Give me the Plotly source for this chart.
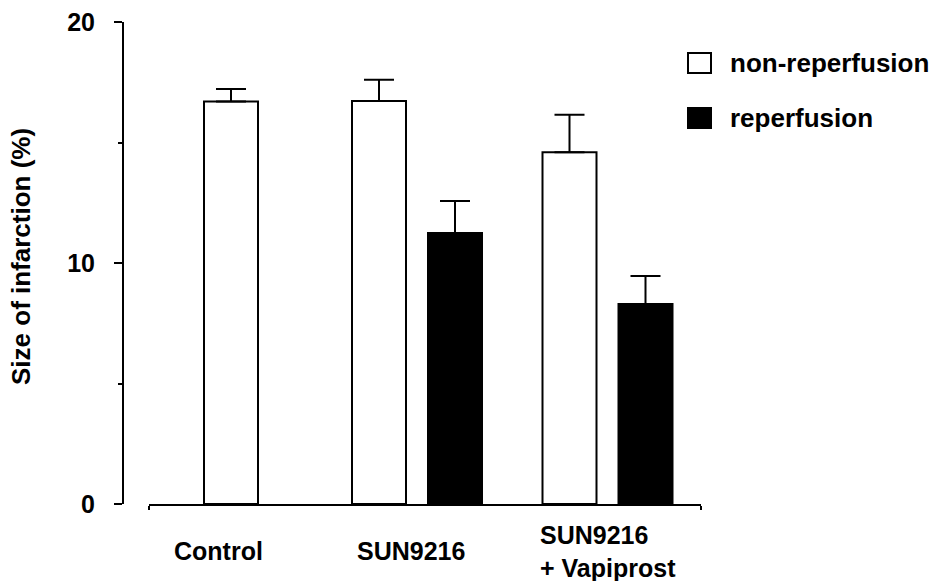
import plotly.graph_objects as go

# ---- data ----
groups = ["Control", "SUN9216", "SUN9216<br>+ Vapiprost"]
nonrep_values = [16.7, 16.72, 14.6]
nonrep_errors = [0.52, 0.88, 1.55]
rep_values = [None, 11.24, 8.3]
rep_errors = [None, 1.33, 1.16]
series_names = ["non-reperfusion", "reperfusion"]
y_ticks = [0, 10, 20]

# ---- layout constants (pixel-based) ----
W, H = 936, 581
group_pos = [1.20, 2.68, 4.585]        # x-axis units (1 unit ~ 100 px)
bar_w = 0.54
half_gap = 0.38
x_range = [0, 5.52]
label_px = [(218, "center"), (411, "center"), (538, "left")]
FONT = "Liberation Sans, Arial, Helvetica, sans-serif"

fig = go.Figure()
fig.add_trace(go.Bar(
    x=group_pos, y=nonrep_values, name=series_names[0],
    width=bar_w, offset=-half_gap - bar_w / 2,
    marker=dict(color="white", line=dict(color="black", width=2)),
    error_y=dict(type="data", array=nonrep_errors, arrayminus=[0, 0, 0],
                 symmetric=False, color="black", thickness=2, width=15),
    showlegend=False,
))
fig.add_trace(go.Bar(
    x=group_pos, y=rep_values, name=series_names[1],
    width=bar_w, offset=half_gap - bar_w / 2,
    marker=dict(color="black", line=dict(color="black", width=2)),
    error_y=dict(type="data", array=[e if e is not None else 0 for e in rep_errors],
                 arrayminus=[0, 0, 0], symmetric=False,
                 color="black", thickness=2, width=15),
    showlegend=False,
))

annotations = []
for (px, al), g in zip(label_px, groups):
    annotations.append(dict(
        x=px / W, y=1 - 551 / H, xref="paper", yref="paper",
        text=g, showarrow=False, xanchor=al if al == "left" else "center",
        yanchor="middle", align=al,
        font=dict(family=FONT, size=25, color="black", weight="bold"),
    ))
# y-axis title
annotations.append(dict(
    x=21 / W, y=1 - 257 / H, xref="paper", yref="paper",
    text="Size of infarction (%)", textangle=-90, showarrow=False,
    xanchor="center", yanchor="middle",
    font=dict(family=FONT, size=26, color="black", weight="bold"),
))

# custom legend
shapes = []
legend_rows = [(53, 73, "white"), (108, 128, "black")]
for (y0, y1, col), name in zip(legend_rows, series_names):
    shapes.append(dict(type="rect", xref="paper", yref="paper",
                       x0=688 / W, x1=711 / W, y0=1 - y1 / H, y1=1 - y0 / H,
                       fillcolor=col, line=dict(color="black", width=2)))
    annotations.append(dict(
        x=728 / W, y=1 - ((y0 + y1) / 2) / H, xref="paper", yref="paper",
        text=name, showarrow=False, xanchor="left", yanchor="middle",
        font=dict(family=FONT, size=26, color="black", weight="bold"),
    ))

fig.update_layout(
    width=W, height=H,
    margin=dict(l=0, r=0, t=0, b=0, autoexpand=False),
    paper_bgcolor="white", plot_bgcolor="white",
    barmode="overlay",
    showlegend=False,
    xaxis=dict(
        domain=[149 / W, 701 / W], range=x_range,
        showline=True, linecolor="black", linewidth=2,
        showgrid=False, zeroline=False,
        tickvals=x_range, ticktext=["", ""], ticks="outside", ticklen=4,
        tickwidth=2, tickcolor="black", fixedrange=True,
    ),
    yaxis=dict(
        domain=[1 - 504 / H, 1 - 22 / H], range=[0, 20],
        anchor="free", position=123 / W,
        showline=True, linecolor="black", linewidth=2,
        showgrid=False, zeroline=False,
        tickvals=y_ticks, ticks="outside", ticklen=8, tickwidth=2,
        tickcolor="black", ticklabelstandoff=14,
        tickfont=dict(family=FONT, size=25, color="black", weight="bold"),
        minor=dict(tickvals=[5, 15], ticks="outside", ticklen=4,
                   tickwidth=2, tickcolor="black"),
    ),
    annotations=annotations,
    shapes=shapes,
)

fig.write_html(
    "out.html",
    config={"displayModeBar": False},
    post_script="document.body.style.margin='0';document.body.style.overflow='hidden';",
)
